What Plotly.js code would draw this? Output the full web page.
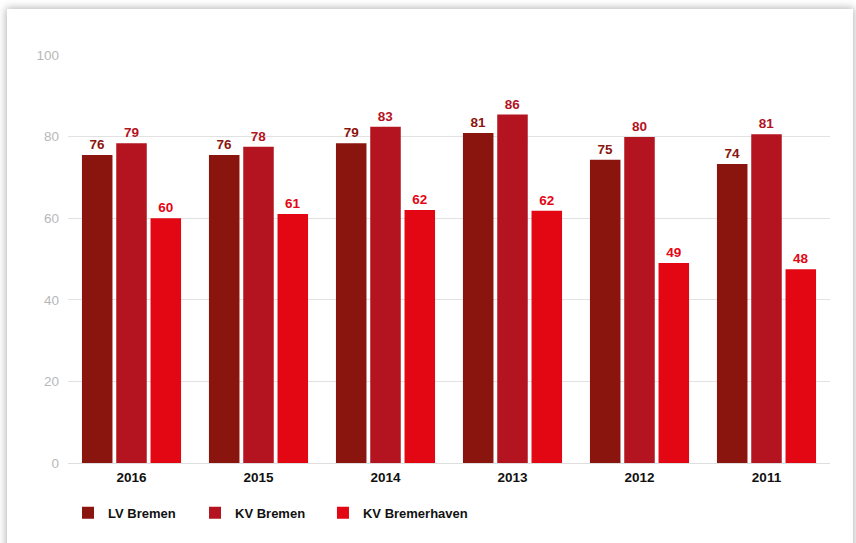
<!DOCTYPE html>
<html><head><meta charset="utf-8">
<script src="https://cdn.plot.ly/plotly-3.0.1.min.js"></script>
<style>
html,body{margin:0;padding:0;background:#fff;width:856px;height:543px;overflow:hidden;}
#card{position:absolute;left:7px;top:9px;width:846px;height:560px;background:#fff;box-shadow:0 0 8px 1px rgba(0,0,0,0.3);}
#chart{position:absolute;left:0;top:0;width:856px;height:543px;}
</style></head>
<body>
<div id="card"></div>
<div id="chart"></div>
<script>
const years = ['2016','2015','2014','2013','2012','2011'];
const lvBremen = [75.5, 75.5, 78.4, 80.9, 74.3, 73.3];
const kvBremen = [78.4, 77.5, 82.4, 85.4, 79.9, 80.6];
const kvBremerhaven = [60.0, 61.0, 62.0, 61.8, 49.0, 47.5];
const lvLabels = ['76','76','79','81','75','74'];
const kvLabels = ['79','78','83','86','80','81'];
const kvbLabels = ['60','61','62','62','49','48'];
const seriesNames = ['LV Bremen','KV Bremen','KV Bremerhaven'];
const colors = ['#8a150e','#b3141f','#e30613'];

const font = 'Liberation Sans, Arial, sans-serif';
const vals = [lvBremen, kvBremen, kvBremerhaven];
const labs = [lvLabels, kvLabels, kvbLabels];
const legendIds = ['legend','legend2','legend3'];
const legendX = [0.0, 0.1667, 0.3346];
const traces = vals.map((v,i)=>({
  type:'bar', x:years, y:v, name:seriesNames[i], legend:legendIds[i],
  marker:{color:colors[i]},
  text:labs[i], textposition:'outside', cliponaxis:false,
  textfont:{family:font, size:13.5, color:colors[i], weight:'bold'},
  hoverinfo:'none'
}));
const layout = {
  width:856, height:543,
  margin:{l:68, r:26, t:55, b:80},
  paper_bgcolor:'rgba(0,0,0,0)', plot_bgcolor:'rgba(0,0,0,0)',
  barmode:'group', bargap:0.19, bargroupgap:0.11,
  showlegend:true,
  xaxis:{type:'category', tickfont:{family:font, size:13.5, color:'#111', weight:'bold'},
    showgrid:false, showline:true, linecolor:'#dedede', linewidth:1, ticks:'', ticklabelstandoff:2},
  yaxis:{range:[0,100], tickvals:[0,20,40,60,80,100], ticks:'',
    tickfont:{family:font, size:13.5, color:'#b8b8b8'},
    gridcolor:'#e2e2e2', gridwidth:1, zeroline:false, showline:false, ticklabelstandoff:8},
  font:{family:font}
};
legendIds.forEach((id,i)=>{
  layout[id] = {orientation:'h', x:legendX[i], xanchor:'left', y:-0.122, yanchor:'middle',
    font:{family:font, size:13, color:'#111', weight:'bold'}, itemwidth:30,
    bgcolor:'rgba(0,0,0,0)'};
});
Plotly.newPlot('chart', traces, layout, {displayModeBar:false, staticPlot:true});
</script>
</body></html>
